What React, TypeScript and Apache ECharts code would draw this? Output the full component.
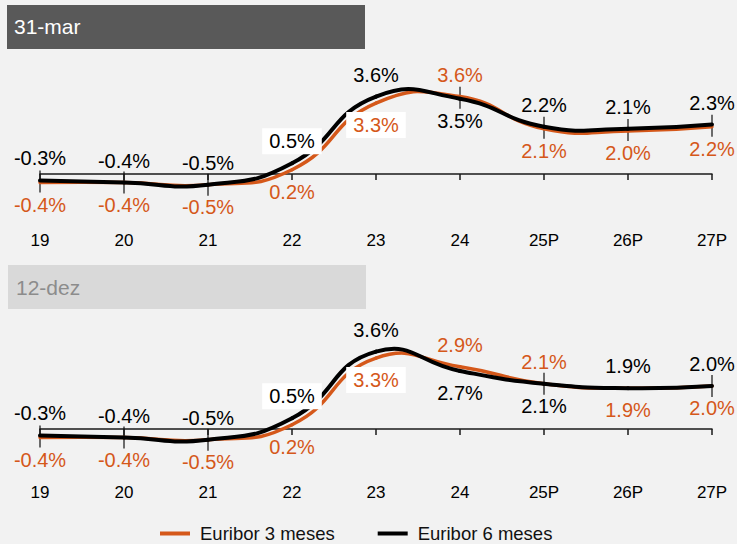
import React, { useEffect, useRef } from "react";
import * as echarts from "echarts";

const categories = ["19", "20", "21", "22", "23", "24", "25P", "26P", "27P"];
const mar3m = [-0.4, -0.4, -0.5, 0.2, 3.3, 3.6, 2.1, 2.0, 2.2];
const mar6m = [-0.3, -0.4, -0.5, 0.5, 3.6, 3.5, 2.2, 2.1, 2.3];
const dez3m = [-0.4, -0.4, -0.5, 0.2, 3.3, 2.9, 2.1, 1.9, 2.0];
const dez6m = [-0.3, -0.4, -0.5, 0.5, 3.6, 2.7, 2.1, 1.9, 2.0];
const panelTitles = ["31-mar", "12-dez"];
const seriesNames = ["Euribor 3 meses", "Euribor 6 meses"];

// label placement (style only)
const marPos3 = ["bottom", "bottom", "bottom", "bottom", "bottom", "top", "bottom", "bottom", "bottom"];
const marPos6 = ["top", "top", "top", "top", "top", "bottom", "top", "top", "top"];
const dezPos3 = ["bottom", "bottom", "bottom", "bottom", "bottom", "top", "top", "bottom", "bottom"];
const dezPos6 = ["top", "top", "top", "top", "top", "bottom", "bottom", "top", "top"];
const marMarkers = [0, 1, 2, 5, 6, 7, 8];
const dezMarkers = [0, 1, 2, 6, 8];

const ORANGE = "#D5581A";
const FONT = "'Liberation Sans', Arial, sans-serif";
const SMOOTH = 0.5;

function lineData(values: number[], pos: string[], color: string, boxIdx: number) {
  return values.map((v, i) => {
    const boxed = i === boxIdx;
    return {
      value: v,
      label: {
        position: pos[i],
        distance: boxed ? 9 : 12,
        backgroundColor: boxed ? "#ffffff" : "transparent",
        padding: boxed ? [3, 7, 3, 7] : 0,
        color,
      },
    };
  });
}

export default function App() {
  const ref = useRef<HTMLDivElement>(null);
  useEffect(() => {
    document.body.style.margin = "0";
    const chart = echarts.init(ref.current!, null, { renderer: "svg" });
    const fmt = (p: any) => Number(p.value).toFixed(1) + "%";

    // label-carrying line series (invisible stroke)
    const mkLabels = (name: string, values: number[], pos: string[], color: string, idx: number, boxIdx: number) => ({
      type: "line",
      name,
      xAxisIndex: idx,
      yAxisIndex: idx,
      symbol: "circle",
      symbolSize: 0.1,
      showSymbol: true,
      itemStyle: { color },
      lineStyle: { color, width: 0, opacity: 0 },
      label: { show: true, fontSize: 20, fontFamily: FONT, formatter: fmt },
      data: lineData(values, pos, color, boxIdx),
      z: 4,
    });

    // smooth curve drawn as cubic bezier segments (unconstrained smoothing)
    const mkCurve = (values: number[], color: string, idx: number, width: number, z: number) => ({
      type: "custom",
      xAxisIndex: idx,
      yAxisIndex: idx,
      silent: true,
      z,
      data: values.map((v, i) => [i, v]),
      encode: { x: 0, y: 1 },
      renderItem: (params: any, api: any) => {
        const i = params.dataIndex;
        const n = values.length;
        if (i >= n - 1) return null;
        const P = values.map((v, j) => api.coord([j, v]));
        const ctrl = (k: number) => {
          if (k <= 0 || k >= n - 1) return { inn: P[k], out: P[k] };
          const prev = P[k - 1], cur = P[k], next = P[k + 1];
          const vx = next[0] - prev[0], vy = next[1] - prev[1];
          const d0 = Math.hypot(cur[0] - prev[0], cur[1] - prev[1]);
          const d1 = Math.hypot(next[0] - cur[0], next[1] - cur[1]);
          const s = d0 + d1 || 1;
          return {
            inn: [cur[0] - vx * SMOOTH * d0 / s, cur[1] - vy * SMOOTH * d0 / s],
            out: [cur[0] + vx * SMOOTH * d1 / s, cur[1] + vy * SMOOTH * d1 / s],
          };
        };
        const a = ctrl(i).out, b = ctrl(i + 1).inn;
        return {
          type: "bezierCurve",
          shape: {
            x1: P[i][0], y1: P[i][1], x2: P[i + 1][0], y2: P[i + 1][1],
            cpx1: a[0], cpy1: a[1], cpx2: b[0], cpy2: b[1],
          },
          style: { stroke: color, lineWidth: width, fill: null, lineCap: "round" },
        };
      },
    });

    const mkMarkers = (a: number[], b: number[], idxs: number[], idx: number) => ({
      type: "scatter",
      xAxisIndex: idx,
      yAxisIndex: idx,
      symbol: "rect",
      symbolSize: [1.5, 22],
      itemStyle: { color: "#111" },
      silent: true,
      z: 1,
      data: idxs.map((i) => [i, (a[i] + b[i]) / 2]),
    });
    const xAxisCommon = {
      type: "category",
      data: categories,
      boundaryGap: false,
      axisLine: { onZero: true, lineStyle: { color: "#1a1a1a", width: 1.5 } },
      axisTick: { show: true, length: 6, lineStyle: { color: "#1a1a1a", width: 1.5 } },
      splitLine: { show: false },
    };
    const yAxisCommon = {
      type: "value",
      min: -1,
      max: 5,
      show: false,
      splitLine: { show: false },
    };
    chart.setOption({
      animation: false,
      backgroundColor: "#f2f2f2",
      textStyle: { fontFamily: FONT },
      grid: [
        { left: 40, right: 25, top: 66.5, height: 129 },
        { left: 40, right: 25, top: 321.5, height: 129 },
      ],
      xAxis: [
        { ...xAxisCommon, gridIndex: 0, axisLabel: { margin: 36, fontSize: 17, color: "#000", fontFamily: FONT } },
        { ...xAxisCommon, gridIndex: 1, axisLabel: { margin: 33, fontSize: 17, color: "#000", fontFamily: FONT } },
      ],
      yAxis: [
        { ...yAxisCommon, gridIndex: 0 },
        { ...yAxisCommon, gridIndex: 1 },
      ],
      legend: {
        data: seriesNames,
        left: 155,
        top: 519,
        icon: "rect",
        itemWidth: 30,
        itemHeight: 4,
        itemGap: 43,
        textStyle: { fontSize: 18.5, color: "#111", fontFamily: FONT, padding: [0, 0, 0, 5] },
      },
      graphic: [
        { type: "rect", left: 7, top: 5, shape: { width: 358, height: 44 }, style: { fill: "#595959" } },
        { type: "text", left: 14, top: 16, style: { text: panelTitles[0], fill: "#ffffff", fontSize: 21, fontFamily: FONT } },
        { type: "rect", left: 8, top: 265, shape: { width: 358, height: 44 }, style: { fill: "#d9d9d9" } },
        { type: "text", left: 16, top: 277, style: { text: panelTitles[1], fill: "#8c8c8c", fontSize: 21, fontFamily: FONT } },
      ],
      series: [
        mkMarkers(mar3m, mar6m, marMarkers, 0),
        mkMarkers(dez3m, dez6m, dezMarkers, 1),
        mkCurve(mar3m, ORANGE, 0, 3.5, 2),
        mkCurve(mar6m, "#000000", 0, 4, 3),
        mkCurve(dez3m, ORANGE, 1, 3.5, 2),
        mkCurve(dez6m, "#000000", 1, 4, 3),
        mkLabels(seriesNames[0], mar3m, marPos3, ORANGE, 0, 4),
        mkLabels(seriesNames[1], mar6m, marPos6, "#000000", 0, 3),
        mkLabels(seriesNames[0], dez3m, dezPos3, ORANGE, 1, 4),
        mkLabels(seriesNames[1], dez6m, dezPos6, "#000000", 1, 3),
      ],
    });
    return () => chart.dispose();
  }, []);
  return <div ref={ref} style={{ position: "absolute", left: 0, top: 0, width: 737, height: 544 }} />;
}
